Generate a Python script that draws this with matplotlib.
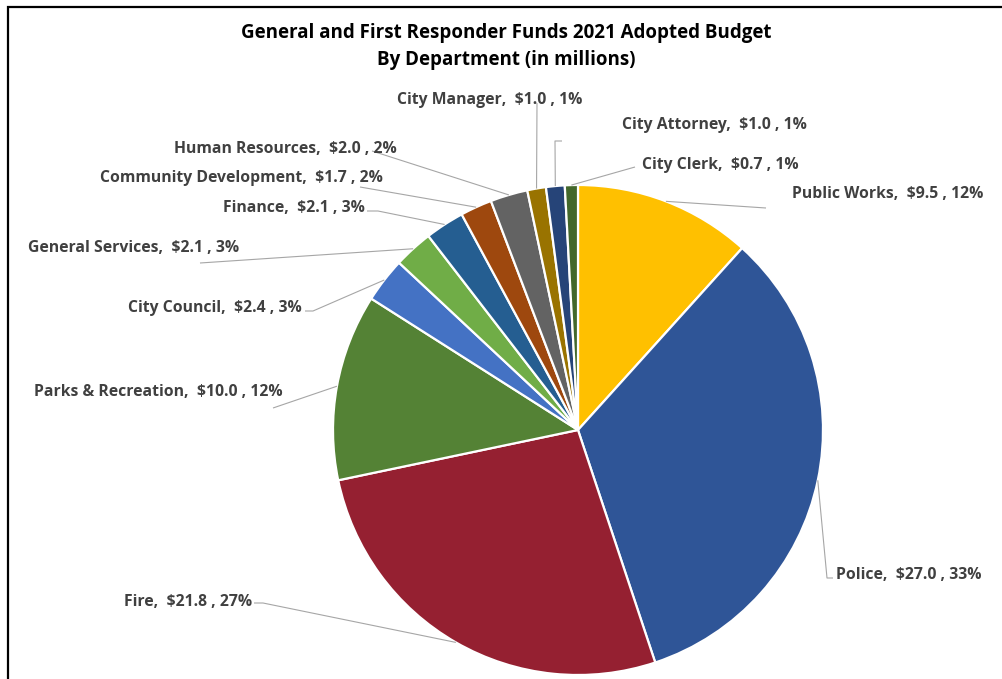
'''General and First Responder Funds 2021 adopted budget, split by department (pie chart)'''
import numpy as np
import matplotlib.pyplot as plt
from matplotlib.patches import Rectangle

plt.rcParams['font.family'] = ['Open Sans', 'DejaVu Sans']

# budget in millions, clockwise from 12 o'clock
departments = ['Public Works', 'Police', 'Fire', 'Parks & Recreation', 'City Council',
               'General Services', 'Finance', 'Community Development', 'Human Resources',
               'City Manager', 'City Attorney', 'City Clerk']
budget = [9.5, 27.0, 21.8, 10.0, 2.4, 2.1, 2.1, 1.7, 2.0, 1.0, 1.0, 0.7]
colors = ['#FFC000', '#2F5597', '#952031', '#548235', '#4472C4', '#70AD47',
          '#255E91', '#9E480E', '#636363', '#997300', '#264478', '#43682B']

W, H = 1002, 679

# label layout, pixels from top-left: text anchor (x, y, ha) and leader points before the pie edge
label_pos = [(792, 194, 'left'), (836, 575, 'left'), (252, 602, 'right'),
             (283, 392, 'right'), (302, 308, 'right'), (239, 248, 'right'),
             (365, 208, 'right'), (383, 178, 'right'), (397, 149, 'right'),
             (582, 100, 'right'), (622, 125, 'left'), (642, 165, 'left')]
leader_pts = [[(766, 208)],
              [(833, 578), (827, 578)],
              [(254, 603), (263, 603)],
              [(273, 408)],
              [(305, 311), (313, 311)],
              [(200, 263)],
              [(367, 211), (378, 211)],
              [(360, 187)],
              [(372, 151)],
              [(537, 103)],
              [(562, 141), (555, 141)],
              [(635, 167)]]

fig = plt.figure(figsize=(W / 100, H / 100), dpi=100)
ax = fig.add_axes([0, 0, 1, 1])

wedges, _ = ax.pie(budget, colors=colors, startangle=90, counterclock=False,
                   center=(578, H - 430), radius=245,
                   wedgeprops=dict(edgecolor='white', linewidth=1.6))
ax.set_xlim(0, W)
ax.set_ylim(0, H)
ax.set_aspect('equal')
ax.axis('off')

total = sum(budget)
for w, name, val, pos, pts in zip(wedges, departments, budget, label_pos, leader_pts):
    # leader line ends on the rim at the middle of the wedge
    mid = np.radians((w.theta1 + w.theta2) / 2)
    edge = (w.center[0] + w.r * np.cos(mid), w.center[1] + w.r * np.sin(mid))
    xs = [p[0] for p in pts] + [edge[0]]
    ys = [H - p[1] for p in pts] + [edge[1]]
    ax.plot(xs, ys, color='#A6A6A6', lw=0.8, solid_capstyle='butt')

    pct = round(val / total * 100)
    text = '%s,  $%.1f , %d%%' % (name, val, pct)
    ax.text(pos[0], H - pos[1], text, ha=pos[2], va='center', fontsize=11.3,
            fontweight='bold', color='#404040')

ax.text(506, H - 33, 'General and First Responder Funds 2021 Adopted Budget',
        ha='center', va='center', fontsize=13.5, fontweight='bold', color='black')
ax.text(506, H - 60, 'By Department (in millions)',
        ha='center', va='center', fontsize=13.5, fontweight='bold', color='black')

# chart frame, cut off on the right and bottom like the screenshot
ax.add_patch(Rectangle((8, -20), W + 20, H - 7 + 20, fill=False,
                       edgecolor='black', lw=1.6, clip_on=False))

plt.savefig('out.png', dpi=100)
